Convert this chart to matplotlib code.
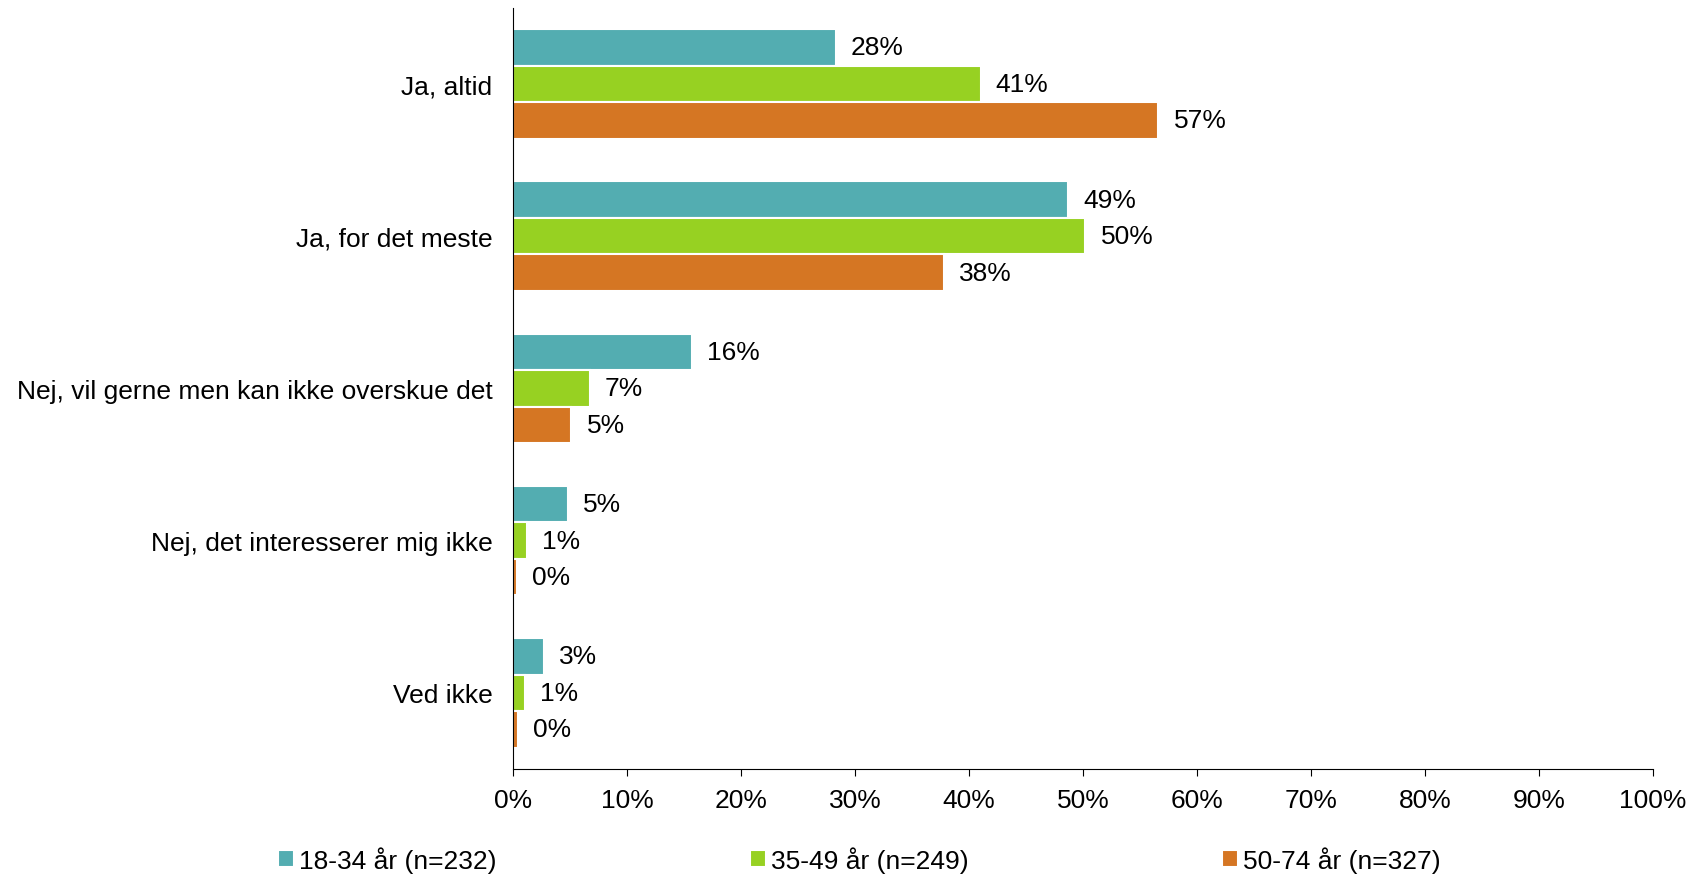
import matplotlib.pyplot as plt
import numpy as np

plt.rcParams['font.family'] = ['Liberation Sans', 'DejaVu Sans']

# Data
categories = ['Ja, altid', 'Ja, for det meste', 'Nej, vil gerne men kan ikke overskue det',
              'Nej, det interesserer mig ikke', 'Ved ikke']
series = ['18-34 år (n=232)', '35-49 år (n=249)', '50-74 år (n=327)']
v_18_34 = [28.3, 48.7, 15.7, 4.8, 2.7]
v_35_49 = [41.0, 50.2, 6.7, 1.2, 1.0]
v_50_74 = [56.6, 37.8, 5.1, 0.3, 0.4]
colors = ['#53ADB1', '#97D122', '#D57623']

fig = plt.figure(figsize=(17.05, 8.79), dpi=100)
ax = fig.add_axes([0.301, 0.124, 0.6685, 0.866])

y = np.arange(len(categories))
h = 0.24
for i, (vals, col, name) in enumerate(zip([v_18_34, v_35_49, v_50_74], colors, series)):
    pos = y + (i - 1) * h
    bars = ax.barh(pos, vals, height=h, color=col, edgecolor='white', linewidth=1.5, label=name)
    for b, v in zip(bars, vals):
        ax.annotate(f'{round(v):d}%', (v, b.get_y() + b.get_height() / 2),
                    xytext=(11, 0), textcoords='offset points',
                    ha='left', va='center', fontsize=19)

ax.set_ylim(len(categories) - 0.5, -0.5)
ax.set_xlim(0, 100)
ax.set_yticks(y)
ax.set_yticklabels(categories, fontsize=19)
ax.set_xticks(np.arange(0, 101, 10))
ax.set_xticklabels([f'{t}%' for t in range(0, 101, 10)], fontsize=19)
ax.tick_params(axis='y', length=0, pad=15)
ax.tick_params(axis='x', length=5, pad=9)
for s in ['top', 'right']:
    ax.spines[s].set_visible(False)

fig.legend(loc='center', bbox_to_anchor=(0.504, 0.021), ncol=3, frameon=False,
           fontsize=19, handlelength=0.6, handleheight=0.6, handletextpad=0.2,
           columnspacing=9.6)

fig.savefig('out.png', dpi=100)
